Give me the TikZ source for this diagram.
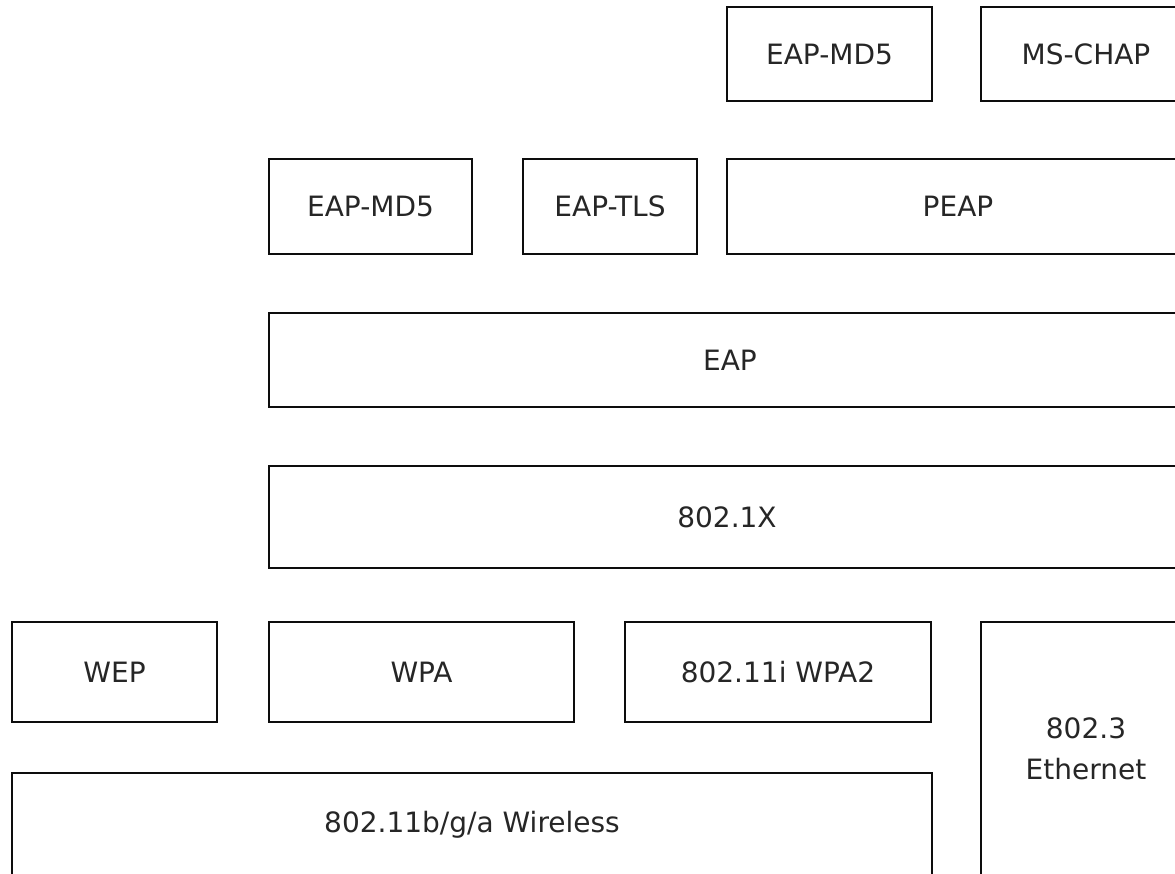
\documentclass[tikz,border=0pt]{standalone}
\usepackage{fontspec}
\setmainfont{DejaVu Sans}
\begin{document}
\begin{tikzpicture}[x=1pt,y=-1pt,
  bx/.style={draw=black!95, line width=2.8pt, inner sep=0pt, align=center,
    font=\fontsize{28}{41}\selectfont, text=black!85}]
\useasboundingbox (0,0) rectangle (1175,874);
\clip (0,0) rectangle (1175,874);
\fill[white] (0,0) rectangle (1175,874);
% top row
\node[bx, minimum width=205pt, minimum height=94pt] (md5a) at (829.5,54) {EAP-MD5};
\node[bx, minimum width=210pt, minimum height=94pt] (mschap) at (1086,54) {MS-CHAP};
% second row
\node[bx, minimum width=203pt, minimum height=95pt] (md5b) at (370.5,206.5) {EAP-MD5};
\node[bx, minimum width=174pt, minimum height=95pt] (tls) at (610,206.5) {EAP-TLS};
\node[bx, minimum width=462pt, minimum height=95pt] (peap) at (958,206.5) {PEAP};
% EAP
\node[bx, minimum width=922pt, minimum height=94pt] (eap) at (730,360) {EAP};
% 802.1X
\node[bx, minimum width=916pt, minimum height=102pt] (dotx) at (727,517) {802.1X};
% security row
\node[bx, minimum width=205pt, minimum height=100pt] (wep) at (114.5,672) {WEP};
\node[bx, minimum width=305pt, minimum height=100pt] (wpa) at (421.5,672) {WPA};
\node[bx, minimum width=306pt, minimum height=100pt] (wpa2) at (778,672) {802.11i WPA2};
% physical
\node[bx, minimum width=210pt, minimum height=254pt] (eth) at (1086,749) {802.3\\Ethernet};
\node[bx, minimum width=920pt, minimum height=104pt] (wl) at (472,825) {802.11b/g/a Wireless};
\end{tikzpicture}
\end{document}
